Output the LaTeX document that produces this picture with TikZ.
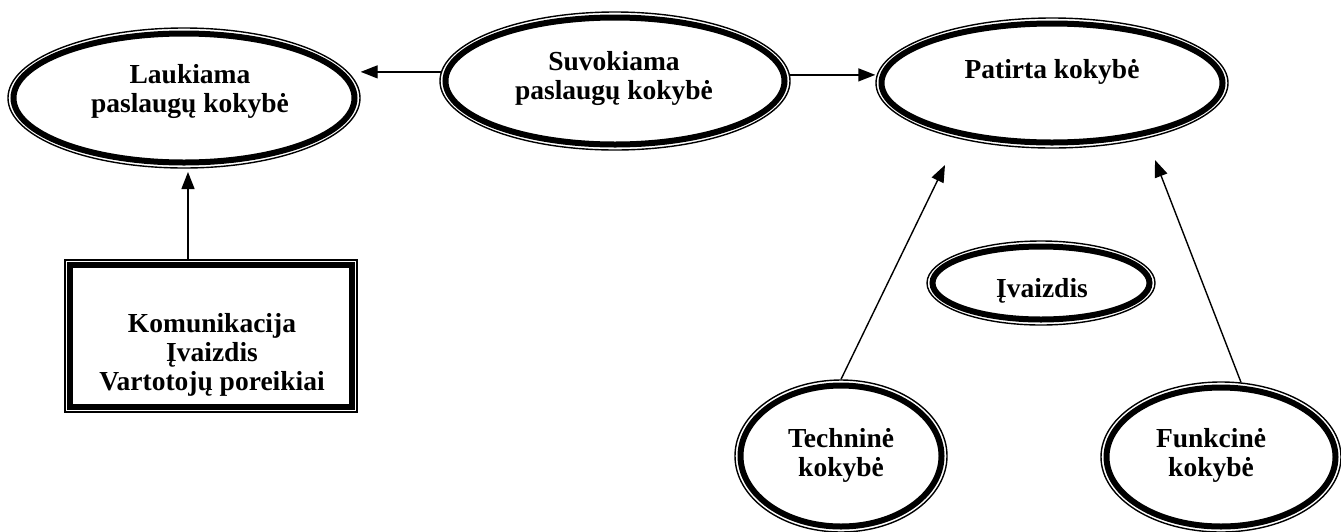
\documentclass[tikz,border=0pt]{standalone}
\usepackage{fontspec}
\setmainfont{Liberation Serif}
\usetikzlibrary{arrows.meta,shapes.geometric}
\tikzset{
  outerov/.style={ellipse, draw, line width=1.4pt, inner sep=0pt},
  innerov/.style={draw, line width=6pt},
  outerbox/.style={rectangle, draw, line width=1.4pt, inner sep=0pt},
  lbl/.style={font=\fontsize{27.5}{29}\selectfont\bfseries, align=center, inner sep=0pt},
  conn/.style={line width=1.4pt, -{Triangle[length=17pt,width=13pt]}},
}
\begin{document}
\begin{tikzpicture}[x=1pt,y=-1pt]
\useasboundingbox (0,0) rectangle (1341,531);

% Laukiama
\node[outerov, minimum width=352pt, minimum height=140pt] (lauk) at (184,98) {};
\draw[innerov] (lauk.center) ellipse [x radius=170.5pt, y radius=64.5pt];
\node[lbl] (laukt) at (190,91) {Laukiama\\paslaugų kokybė};

% Suvokiama
\node[outerov, minimum width=350pt, minimum height=138pt] (suv) at (615,81) {};
\draw[innerov] (suv.center) ellipse [x radius=169.5pt, y radius=63.5pt];
\node[lbl] (suvt) at (614,78) {Suvokiama\\paslaugų kokybė};

% Patirta
\node[outerov, minimum width=352pt, minimum height=130pt] (pat) at (1052,83) {};
\draw[innerov] (pat.center) ellipse [x radius=170.5pt, y radius=59.5pt];
\node[lbl] (patt) at (1052,72) {Patirta kokybė};

% Ivaizdis
\node[outerov, minimum width=228pt, minimum height=84pt] (ivz) at (1041,283) {};
\draw[innerov] (ivz.center) ellipse [x radius=108.5pt, y radius=36.5pt];
\node[lbl] (ivzt) at (1042,291) {Įvaizdis};

% Box
\node[outerbox, minimum width=292pt, minimum height=152pt] (box) at (211,336) {};
\draw[innerov] ([shift={(5.5pt,-5.5pt)}]box.north west) rectangle ([shift={(-5.5pt,5.5pt)}]box.south east);
\node[lbl] (boxt) at (212,355) {Komunikacija\\Įvaizdis\\Vartotojų poreikiai};

% Technine
\node[outerov, minimum width=212pt, minimum height=152pt] (tech) at (841,456) {};
\draw[innerov] (tech.center) ellipse [x radius=100.5pt, y radius=70.5pt];
\node[lbl] (techt) at (841,455) {Techninė\\kokybė};

% Funkcine
\node[outerov, minimum width=240pt, minimum height=150pt] (fun) at (1221,457) {};
\draw[innerov] (fun.center) ellipse [x radius=114.5pt, y radius=69.5pt];
\node[lbl] (funt) at (1211,455) {Funkcinė\\kokybė};

% connectors
\coordinate (tipT) at (945,165);
\coordinate (tipF) at (1155,160);
\draw[conn] (suv.177.4) -- (suv.177.4 -| lauk.east);
\draw[conn] (suv.2.6) -- (suv.2.6 -| pat.west);
\draw[conn] (box.north -| 188,0) -- (188,172);
\draw[conn] (tech.north) -- (tipT);
\draw[conn] (fun.75) -- (tipF);
\end{tikzpicture}
\end{document}
